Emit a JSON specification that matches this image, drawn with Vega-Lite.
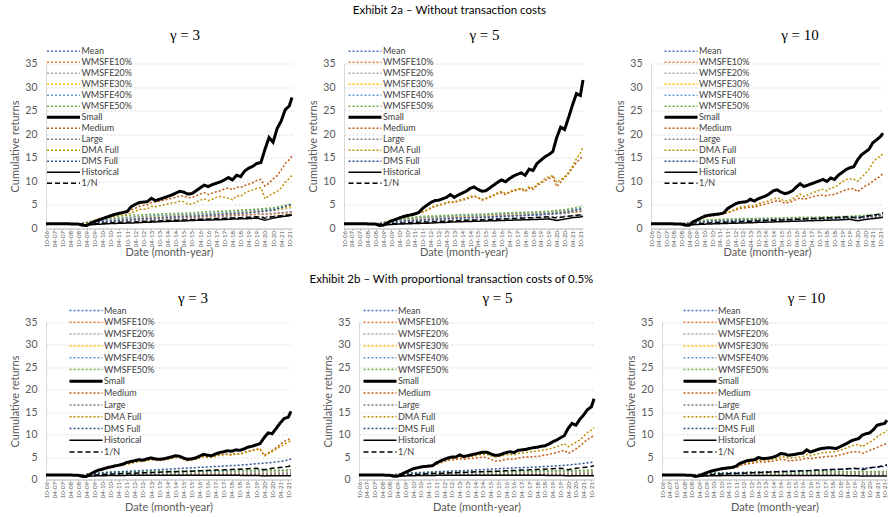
{
"$schema":"https://vega.github.io/schema/vega-lite/v6.json",
"padding":{"left":9,"top":4.5,"right":0,"bottom":0},
"background":"white",
"config":{
 "font":"Lato",
 "view":{"stroke":null},
 "axis":{"labelFont":"Lato","titleFont":"Lato","labelColor":"#595959","titleColor":"#595959","titleFontWeight":"normal"},
 "axisY":{"grid":true,"gridColor":"#D9D9D9","gridDash":[2,2],"ticks":false,"labelFontSize":10.5,"labelPadding":9,"titleFontSize":11,"titlePadding":4,"minExtent":0,"domainColor":"#D9D9D9"},
 "axisX":{"grid":false,"labelAngle":-90,"labelFontSize":6,"tickSize":2,"labelPadding":0,"titlePadding":0,"titleFontSize":11,"minExtent":0,"domainColor":"#BFBFBF","tickColor":"#BFBFBF","labelOverlap":false,"labelFlush":false},
 "legend":{"orient":"none","labelFont":"Lato","labelFontSize":9,"labelColor":"#404040","symbolSize":1089,"symbolType":"stroke","clipHeight":10,"rowPadding":1,"labelOffset":0.5,"padding":0,"offset":0},
 "title":{"font":"Liberation Serif","fontSize":15,"fontWeight":"normal","color":"#000000"}
},
"datasets":{
 "grids":[
  {"g":"Q","t":[0,3,6,9,12,15,18,21,24,27,30,33,36,39,42,45,48,51,54,57,60,63,66,69,72,75,78,81,84,87,90,93,96,99,102,105,108,111,114,117,120,123,126,129,132,135,138,141,144,147,150,153,156,159,162,165,168,171,174,177,180,182]},
  {"g":"H","t":[0,6,12,18,24,30,36,42,48,54,60,66,72,78,84,90,96,102,108,114,120,126,132,138,144,150,156,162,168,174,180,182]},
  {"g":"Y","t":[0,12,24,36,48,60,72,84,96,108,120,132,144,156,168,180,182]}
 ],
 "series":[
  {"p":"a3","s":"Mean","g":"Y","v":[1,1.01,0.96,1.3,1.5,1.7,1.9,2,2.2,2.3,2.5,2.6,2.8,3,3.2,3.5,3.6]},
  {"p":"a3","s":"\u00a0WMSFE10%","g":"Y","v":[1,1.01,0.96,1.4,1.7,1.9,2,2.2,2.3,2.4,2.6,2.7,2.9,3,3.1,3.3,3.4]},
  {"p":"a3","s":"\u00a0WMSFE20%","g":"Y","v":[1,1.01,0.96,1.5,1.9,2.2,2.4,2.6,2.7,2.8,3,3.1,3.3,3.5,3.8,4.3,4.5]},
  {"p":"a3","s":"\u00a0WMSFE30%","g":"Y","v":[1,1.01,0.96,1.5,2,2.3,2.5,2.7,2.8,2.9,3.1,3.3,3.5,3.7,4,4.5,4.7]},
  {"p":"a3","s":"\u00a0WMSFE40%","g":"Y","v":[1,1.01,0.96,1.5,2,2.4,2.6,2.8,2.9,3,3.2,3.4,3.6,3.9,4.2,4.9,5.1]},
  {"p":"a3","s":"\u00a0WMSFE50%","g":"Y","v":[1,1.01,0.96,1.7,2.4,2.8,2.9,3.1,3.2,3.3,3.6,3.7,3.9,4.1,4.4,5.1,5.4]},
  {"p":"a3","s":"Large","g":"Y","v":[1,1.01,0.96,1.2,1.4,1.6,1.7,1.8,1.9,2,2.1,2.2,2.3,2.4,2.6,2.9,3]},
  {"p":"a3","s":"DMS Full","g":"Y","v":[1,1.01,0.96,1.3,1.6,1.9,2.1,2.3,2.5,2.6,2.8,3,3.2,3.5,3.9,4.9,5.3]},
  {"p":"a3","s":"Historical","g":"H","v":[1,1.01,1.02,1,0.97,0.72,0.85,0.95,1.05,1.1,1.15,1.2,1.3,1.35,1.45,1.5,1.55,1.6,1.7,1.75,1.8,1.85,1.9,2,2.05,2.1,2.2,1.75,2.2,2.5,2.7,2.85]},
  {"p":"a3","s":"1/N","g":"H","v":[1,1.01,1.02,1,0.95,0.78,1,1.1,1.2,1.3,1.35,1.4,1.5,1.55,1.6,1.7,1.75,1.8,1.85,1.95,2,2.1,2.15,2.25,2.3,2.4,2.5,2.2,2.5,2.7,2.9,3.05]},
  {"p":"a3","s":"Medium","g":"Q","v":[1,1,1.01,1,1.02,1,0.99,0.98,0.95,0.8,0.95,1.4,1.7,2,2.3,2.6,2.9,3.1,3.3,3.4,3.5,3.9,4.3,4.7,4.9,5,5.5,5.6,5.8,6,6.2,6.4,6.6,6.9,6.9,6.5,6.6,6.9,7.3,7.6,7.2,7.5,7.8,8,8.4,8.6,8.2,8.8,8.7,9.1,9.4,9.7,10.2,10.4,9,9.6,10.5,11.2,12.4,13.8,14.6,15.4]},
  {"p":"a3","s":"DMA Full","g":"Q","v":[1,1,1.01,1,1.02,1,0.99,0.98,0.95,0.8,0.95,1.3,1.6,1.9,2.1,2.3,2.5,2.6,2.8,2.9,3,3.3,3.7,4,4.1,4.2,4.7,4.6,4.8,5,5.2,5.4,5.5,5.8,5.7,5.1,5.2,5.6,6,6.3,5.9,6.2,6.6,6.8,6.6,6.4,6.1,6.9,6.8,7.5,7.9,8.2,8.5,8.7,6.3,7,7.4,7.9,8.6,9.8,10.6,11.3]},
  {"p":"a3","s":"Small","g":"Q","v":[1,1,1.01,1,1.02,1,0.98,0.97,0.93,0.7,0.62,1.1,1.5,1.8,2.1,2.4,2.7,3,3.2,3.4,3.6,4.6,5.1,5.5,5.6,5.7,6.4,5.9,6.2,6.5,6.8,7.1,7.5,7.9,7.7,7.3,7.4,8,8.6,9.2,8.9,9.3,9.6,9.9,10.3,10.8,10.3,11.3,11,12.2,12.8,13.2,13.8,14,16.8,19.3,18.3,21.2,22.8,25.2,26,27.8]},

  {"p":"a5","s":"Mean","g":"Y","v":[1,1.01,0.96,1.4,1.7,1.9,2,2.2,2.3,2.4,2.5,2.7,2.8,3,3.2,3.6,3.8]},
  {"p":"a5","s":"\u00a0WMSFE10%","g":"Y","v":[1,1.01,0.96,1.5,1.9,2.1,2.2,2.4,2.5,2.6,2.7,2.8,3,3.1,3.3,3.6,3.7]},
  {"p":"a5","s":"\u00a0WMSFE20%","g":"Y","v":[1,1.01,0.96,1.5,2,2.2,2.4,2.5,2.6,2.7,2.9,3,3.1,3.3,3.5,3.9,4]},
  {"p":"a5","s":"\u00a0WMSFE30%","g":"Y","v":[1,1.01,0.96,1.6,2.1,2.3,2.5,2.6,2.7,2.8,3,3.1,3.2,3.4,3.6,4.1,4.2]},
  {"p":"a5","s":"\u00a0WMSFE40%","g":"Y","v":[1,1.01,0.96,1.6,2.1,2.4,2.5,2.7,2.8,2.9,3.1,3.2,3.3,3.5,3.8,4.3,4.4]},
  {"p":"a5","s":"\u00a0WMSFE50%","g":"Y","v":[1,1.01,0.96,1.7,2.3,2.6,2.7,2.9,3,3.1,3.3,3.4,3.5,3.7,4,4.6,4.8]},
  {"p":"a5","s":"Large","g":"Y","v":[1,1.01,0.96,1.2,1.4,1.6,1.7,1.8,1.9,2,2.1,2.2,2.3,2.4,2.6,2.8,2.9]},
  {"p":"a5","s":"DMS Full","g":"Y","v":[1,1.01,0.96,1.3,1.6,1.8,2,2.2,2.3,2.4,2.6,2.7,2.9,3.1,3.4,4.1,4.5]},
  {"p":"a5","s":"Historical","g":"H","v":[1,1.01,1.02,1,0.97,0.72,0.85,0.95,1,1.05,1.1,1.15,1.25,1.3,1.4,1.45,1.5,1.55,1.6,1.65,1.7,1.75,1.8,1.85,1.9,1.95,2.05,1.7,2,2.3,2.45,2.6]},
  {"p":"a5","s":"1/N","g":"H","v":[1,1.01,1.02,1,0.95,0.78,1,1.1,1.2,1.3,1.35,1.4,1.5,1.55,1.6,1.7,1.75,1.8,1.85,1.95,2,2.1,2.15,2.25,2.3,2.4,2.5,2.2,2.5,2.7,2.9,3.05]},
  {"p":"a5","s":"Medium","g":"Q","v":[1,1,1.01,1,1.02,1,0.99,0.98,0.95,0.7,0.9,1.3,1.7,2,2.3,2.6,2.8,3,3.2,3.3,3.5,3.9,4.3,4.7,4.9,5.1,5.4,5.6,5.5,5.8,6,6.2,6.6,6.8,6.6,6,6.3,6.6,7,7.4,7.6,7.2,7.6,8,8.2,8.4,7.8,8.6,8.3,9.1,9.6,10.2,10.6,11,8.9,9.8,10.8,11.6,12.8,14,14.8,15.5]},
  {"p":"a5","s":"DMA Full","g":"Q","v":[1,1,1.01,1,1.02,1,0.99,0.98,0.95,0.7,0.9,1.3,1.7,2,2.3,2.6,2.8,3,3.2,3.3,3.5,3.9,4.4,4.8,5,5.2,5.5,5.7,5.6,6,6.2,6.4,6.8,7,6.5,6.2,6.4,6.8,7.1,7.6,7.9,7.4,7.8,8.2,8.3,8.6,8,8.9,8.5,9.4,9.9,10.6,11,11.2,9.7,10.4,11,11.9,13.2,14.8,16,17.2]},
  {"p":"a5","s":"Small","g":"Q","v":[1,1,1.01,1,1.02,1,0.98,0.97,0.93,0.65,0.7,1.2,1.6,1.9,2.2,2.5,2.7,2.9,3.1,3.4,4.3,4.9,5.5,5.9,6,6.3,6.6,7.2,6.6,7.1,7.5,7.9,8.5,8.8,8.3,7.9,8,8.6,9.2,9.8,10.3,9.9,10.6,11.1,11.5,11.8,11.3,12.6,12.3,13.8,14.5,15.2,15.7,16.3,19.3,21.5,21,23.5,26.2,28.6,28.2,31.5]},

  {"p":"a10","s":"Mean","g":"Y","v":[1,1.01,0.96,1.3,1.5,1.6,1.7,1.8,1.9,2,2,2.1,2.2,2.3,2.4,2.7,2.8]},
  {"p":"a10","s":"\u00a0WMSFE10%","g":"Y","v":[1,1.01,0.96,1.4,1.6,1.7,1.8,1.9,2,2,2.1,2.2,2.2,2.3,2.4,2.6,2.7]},
  {"p":"a10","s":"\u00a0WMSFE20%","g":"Y","v":[1,1.01,0.96,1.4,1.7,1.8,1.9,2,2,2.1,2.2,2.2,2.3,2.4,2.5,2.8,2.9]},
  {"p":"a10","s":"\u00a0WMSFE30%","g":"Y","v":[1,1.01,0.96,1.5,1.8,1.9,2,2,2.1,2.2,2.2,2.3,2.4,2.5,2.6,2.9,3]},
  {"p":"a10","s":"\u00a0WMSFE40%","g":"Y","v":[1,1.01,0.96,1.5,1.8,1.9,2,2.1,2.1,2.2,2.3,2.3,2.4,2.5,2.7,3,3.1]},
  {"p":"a10","s":"\u00a0WMSFE50%","g":"Y","v":[1,1.01,0.96,1.6,1.9,2,2.1,2.1,2.2,2.3,2.4,2.4,2.5,2.6,2.8,3.1,3.3]},
  {"p":"a10","s":"Large","g":"Y","v":[1,1.01,0.96,1.2,1.4,1.5,1.6,1.7,1.7,1.8,1.9,1.9,2,2.1,2.2,2.4,2.5]},
  {"p":"a10","s":"DMS Full","g":"Y","v":[1,1.01,0.96,1.3,1.5,1.6,1.7,1.8,1.9,1.9,2,2.1,2.2,2.3,2.5,2.8,3]},
  {"p":"a10","s":"Historical","g":"H","v":[1,1.01,1.02,1,0.97,0.75,0.85,0.92,0.98,1.03,1.08,1.12,1.18,1.22,1.3,1.35,1.4,1.45,1.5,1.55,1.6,1.65,1.7,1.75,1.8,1.85,1.95,1.65,1.9,2.1,2.3,2.4]},
  {"p":"a10","s":"1/N","g":"H","v":[1,1.01,1.02,1,0.95,0.78,1,1.1,1.2,1.3,1.35,1.4,1.5,1.55,1.6,1.7,1.75,1.8,1.85,1.95,2,2.1,2.15,2.25,2.3,2.4,2.5,2.2,2.6,2.8,3.1,3.35]},
  {"p":"a10","s":"Medium","g":"Q","v":[1,1,1.01,1,1.02,1,0.99,0.98,0.95,0.75,0.95,1.4,1.8,2.1,2.4,2.6,2.7,2.8,2.9,3.1,3.3,3.6,3.9,4.2,4.3,4.4,4.6,4.5,4.8,5,5.2,5.4,5.7,5.9,5.7,5.4,5.5,5.8,6.2,6.5,6.2,6.4,6.7,6.9,7,7.1,6.9,7.2,7.2,7.6,7.9,8.2,8.4,8.5,7.8,8.4,9,9.4,10,10.6,11.1,11.7]},
  {"p":"a10","s":"DMA Full","g":"Q","v":[1,1,1.01,1,1.02,1,0.99,0.98,0.95,0.75,0.95,1.4,1.8,2.1,2.4,2.6,2.8,2.9,3,3.2,3.4,3.7,4.1,4.5,4.6,4.7,4.9,4.8,5.2,5.5,5.7,5.9,6.3,6.5,6.2,5.8,5.9,6.3,6.8,7.3,6.8,7.1,7.5,7.8,8.1,8.3,8,8.6,8.7,9.3,9.9,10.4,10.5,10.5,10,10.8,11.6,12.6,13.9,14.9,15.3,16]},
  {"p":"a10","s":"Small","g":"Q","v":[1,1,1.01,1,1.02,1,0.98,0.97,0.93,0.7,0.7,1.4,1.8,2.2,2.6,2.8,2.9,3,3.1,3.3,4.2,4.7,5.2,5.5,5.6,5.7,6.2,5.8,6.3,6.6,6.9,7.4,8,8.2,7.7,7.4,7.6,8,8.8,9.5,8.9,9.2,9.5,9.8,10.1,10.4,10,10.7,10.4,11.3,11.9,12.5,12.9,13.1,14.5,15.6,16.2,16.8,18.2,18.8,19.5,20.2]},

  {"p":"b3","s":"Mean","g":"Y","v":[1,1,0.95,1.2,1.3,1.3,1.3,1.35,1.35,1.4,1.4,1.4,1.45,1.45,1.5,1.5,1.5]},
  {"p":"b3","s":"\u00a0WMSFE10%","g":"Y","v":[1,1,0.95,1.1,1.2,1.2,1.2,1.2,1.2,1.2,1.2,1.2,1.2,1.2,1.2,1.25,1.25]},
  {"p":"b3","s":"\u00a0WMSFE20%","g":"Y","v":[1,1,0.95,1.2,1.3,1.35,1.4,1.45,1.5,1.5,1.5,1.55,1.55,1.6,1.6,1.65,1.65]},
  {"p":"b3","s":"\u00a0WMSFE30%","g":"Y","v":[1,1,0.95,1.3,1.5,1.55,1.6,1.65,1.7,1.7,1.75,1.8,1.8,1.85,1.9,1.95,2]},
  {"p":"b3","s":"\u00a0WMSFE40%","g":"Y","v":[1,1,0.95,1.3,1.5,1.6,1.65,1.7,1.75,1.75,1.8,1.85,1.9,1.9,1.95,2,2.05]},
  {"p":"b3","s":"\u00a0WMSFE50%","g":"Y","v":[1,1,0.95,1.4,1.7,1.8,1.85,1.9,1.9,1.95,2,2,2.05,2.1,2.1,2.15,2.2]},
  {"p":"b3","s":"Large","g":"Y","v":[1,1,0.95,1.05,1.1,1.1,1.1,1.1,1.1,1.1,1.1,1.1,1.1,1.1,1.1,1.15,1.15]},
  {"p":"b3","s":"DMS Full","g":"Y","v":[1,1,0.95,1.3,1.6,1.8,2,2.2,2.4,2.6,2.8,3,3.2,3.5,3.8,4.3,4.6]},
  {"p":"b3","s":"Historical","g":"H","v":[1,1.01,1.02,1,0.97,0.7,0.8,0.85,0.88,0.9,0.92,0.93,0.94,0.95,0.95,0.96,0.96,0.95,0.95,0.94,0.94,0.93,0.93,0.92,0.92,0.91,0.9,0.8,0.85,0.85,0.84,0.85]},
  {"p":"b3","s":"1/N","g":"H","v":[1,1.01,1.02,1,0.95,0.78,1,1.1,1.2,1.3,1.35,1.4,1.5,1.55,1.6,1.7,1.75,1.8,1.85,1.95,2,2.1,2.15,2.25,2.3,2.4,2.5,2.2,2.5,2.7,2.9,3.1]},
  {"p":"b3","s":"Medium","g":"Q","v":[1,1,1.01,1,1.02,1,0.99,0.98,0.95,0.75,0.9,1.3,1.7,2.1,2.4,2.6,2.8,3,3.2,3.3,3.5,3.7,3.9,4.1,4.1,4.3,4.5,4.4,4.3,4.4,4.6,4.8,5,5,4.6,4.3,4.4,4.6,4.9,5.2,5,5,5.3,5.5,5.6,5.7,5.5,5.8,5.7,6,6.3,6.5,6.7,6.9,5.4,5.9,6.5,7.1,7.8,8.5,8.9,9.4]},
  {"p":"b3","s":"DMA Full","g":"Q","v":[1,1,1.01,1,1.02,1,0.99,0.98,0.95,0.75,0.9,1.3,1.7,2,2.3,2.5,2.7,2.9,3.1,3.2,3.4,3.6,3.8,4,4,4.2,4.4,4.3,4.2,4.3,4.5,4.7,4.9,4.9,4.5,4.2,4.3,4.5,4.8,5.1,4.9,4.9,5.2,5.4,5.5,5.6,5.4,5.7,5.6,5.9,6.2,6.4,6.6,6.8,5.2,5.7,6.2,6.7,7.3,7.9,8.3,8.7]},
  {"p":"b3","s":"Small","g":"Q","v":[1,1,1.01,1,1.02,1,0.98,0.97,0.93,0.7,0.65,1.2,1.7,2.1,2.3,2.6,2.8,3,3.2,3.4,3.8,4,4.2,4.4,4.3,4.6,4.8,4.6,4.5,4.6,4.8,5,5.3,5.2,4.8,4.5,4.6,4.8,5.2,5.6,5.4,5.3,5.7,6,6.2,6.4,6.3,6.6,6.5,6.8,7.2,7.4,7.7,8,9.3,10.4,10.2,11.4,12.6,13.6,13.9,15.2]},

  {"p":"b5","s":"Mean","g":"Y","v":[1,1,0.95,1.2,1.3,1.3,1.35,1.35,1.4,1.4,1.4,1.45,1.45,1.5,1.5,1.55,1.55]},
  {"p":"b5","s":"\u00a0WMSFE10%","g":"Y","v":[1,1,0.95,1.1,1.2,1.2,1.2,1.2,1.2,1.2,1.2,1.2,1.2,1.25,1.25,1.3,1.3]},
  {"p":"b5","s":"\u00a0WMSFE20%","g":"Y","v":[1,1,0.95,1.2,1.35,1.4,1.4,1.45,1.45,1.5,1.5,1.55,1.55,1.6,1.6,1.65,1.7]},
  {"p":"b5","s":"\u00a0WMSFE30%","g":"Y","v":[1,1,0.95,1.3,1.5,1.55,1.6,1.6,1.65,1.7,1.7,1.75,1.8,1.8,1.85,1.9,1.95]},
  {"p":"b5","s":"\u00a0WMSFE40%","g":"Y","v":[1,1,0.95,1.3,1.5,1.6,1.6,1.65,1.7,1.75,1.75,1.8,1.85,1.9,1.9,2,2]},
  {"p":"b5","s":"\u00a0WMSFE50%","g":"Y","v":[1,1,0.95,1.4,1.6,1.7,1.75,1.8,1.8,1.85,1.9,1.9,1.95,2,2.05,2.1,2.1]},
  {"p":"b5","s":"Large","g":"Y","v":[1,1,0.95,1.05,1.1,1.1,1.1,1.1,1.1,1.1,1.1,1.1,1.1,1.1,1.1,1.15,1.15]},
  {"p":"b5","s":"DMS Full","g":"Y","v":[1,1,0.95,1.3,1.5,1.7,1.9,2,2.2,2.4,2.6,2.7,2.9,3.1,3.4,3.8,4.1]},
  {"p":"b5","s":"Historical","g":"H","v":[1,1.01,1.02,1,0.97,0.7,0.8,0.85,0.88,0.9,0.92,0.93,0.94,0.95,0.95,0.96,0.96,0.95,0.95,0.94,0.94,0.93,0.93,0.92,0.92,0.91,0.9,0.8,0.84,0.84,0.83,0.84]},
  {"p":"b5","s":"1/N","g":"H","v":[1,1.01,1.02,1,0.95,0.78,1,1.1,1.2,1.3,1.35,1.4,1.5,1.55,1.6,1.7,1.75,1.8,1.85,1.95,2,2.1,2.15,2.25,2.3,2.4,2.5,2.2,2.5,2.7,2.9,3.1]},
  {"p":"b5","s":"Medium","g":"Q","v":[1,1,1.01,1,1.02,1,0.99,0.98,0.95,0.75,0.9,1.3,1.7,2,2.3,2.5,2.7,2.8,2.9,3,3.4,3.7,4,4.3,4.4,4.4,4.7,4.5,4.6,4.7,4.8,4.9,5,4.9,4.5,4.1,4.1,4.3,4.5,4.6,4.5,4.8,4.9,5,5,5.1,5.1,5.3,5.4,5.6,5.8,6,6.3,6.5,5.8,6.3,6.8,7.5,8.2,9,9.4,9.9]},
  {"p":"b5","s":"DMA Full","g":"Q","v":[1,1,1.01,1,1.02,1,0.99,0.98,0.95,0.75,0.9,1.3,1.7,2,2.3,2.5,2.7,2.8,2.9,3,3.5,3.9,4.2,4.5,4.7,4.7,5.1,4.9,5,5.2,5.3,5.5,5.6,5.6,5.3,5,5.1,5.3,5.5,5.6,5.5,5.8,5.9,6,6.1,6.3,6.3,6.5,6.6,6.8,7,7.3,7.6,8,7.3,7.8,8.3,8.8,9.6,10.5,11,11.5]},
  {"p":"b5","s":"Small","g":"Q","v":[1,1,1.01,1,1.02,1,0.98,0.97,0.93,0.7,0.75,1.2,1.6,2,2.4,2.6,2.8,2.9,3,3.1,3.7,4.1,4.5,4.8,5,5,5.5,5.1,5.3,5.5,5.7,5.9,6.1,6.1,5.7,5.4,5.4,5.7,6,6.2,6,6.5,6.6,6.7,6.9,7.1,7.2,7.4,7.5,7.9,8.4,8.8,9.3,9.8,11.4,12.5,12.1,13.4,14.4,15.6,16.2,18]},

  {"p":"b10","s":"Mean","g":"Y","v":[1,1,0.95,1.2,1.3,1.3,1.35,1.35,1.4,1.4,1.4,1.4,1.45,1.45,1.5,1.5,1.5]},
  {"p":"b10","s":"\u00a0WMSFE10%","g":"Y","v":[1,1,0.95,1.1,1.15,1.15,1.15,1.15,1.15,1.15,1.2,1.2,1.2,1.2,1.2,1.2,1.2]},
  {"p":"b10","s":"\u00a0WMSFE20%","g":"Y","v":[1,1,0.95,1.2,1.3,1.35,1.35,1.4,1.4,1.4,1.45,1.45,1.45,1.5,1.5,1.5,1.55]},
  {"p":"b10","s":"\u00a0WMSFE30%","g":"Y","v":[1,1,0.95,1.25,1.4,1.45,1.5,1.5,1.55,1.55,1.6,1.6,1.6,1.65,1.65,1.7,1.7]},
  {"p":"b10","s":"\u00a0WMSFE40%","g":"Y","v":[1,1,0.95,1.3,1.45,1.5,1.5,1.55,1.6,1.6,1.65,1.65,1.7,1.7,1.7,1.75,1.75]},
  {"p":"b10","s":"\u00a0WMSFE50%","g":"Y","v":[1,1,0.95,1.35,1.5,1.55,1.6,1.6,1.65,1.65,1.7,1.7,1.75,1.75,1.8,1.8,1.85]},
  {"p":"b10","s":"Large","g":"Y","v":[1,1,0.95,1.05,1.1,1.1,1.1,1.1,1.1,1.1,1.1,1.1,1.1,1.1,1.1,1.1,1.1]},
  {"p":"b10","s":"DMS Full","g":"Y","v":[1,1,0.95,1.2,1.4,1.5,1.6,1.7,1.8,1.9,2,2.1,2.2,2.4,2.6,2.9,3.1]},
  {"p":"b10","s":"Historical","g":"H","v":[1,1.01,1.02,1,0.97,0.72,0.8,0.84,0.86,0.88,0.89,0.9,0.9,0.91,0.91,0.91,0.9,0.9,0.9,0.89,0.89,0.88,0.88,0.87,0.87,0.86,0.85,0.75,0.78,0.78,0.77,0.78]},
  {"p":"b10","s":"1/N","g":"H","v":[1,1.01,1.02,1,0.95,0.78,1,1.1,1.2,1.3,1.35,1.4,1.5,1.55,1.6,1.7,1.75,1.8,1.85,1.95,2,2.1,2.15,2.25,2.3,2.4,2.5,2.2,2.6,2.8,3.1,3.3]},
  {"p":"b10","s":"Medium","g":"Q","v":[1,1,1.01,1,1.02,1,0.99,0.98,0.95,0.75,0.9,1.2,1.5,1.8,2,2.1,2.2,2.3,2.4,2.5,2.7,3,3.3,3.5,3.6,3.7,4,3.9,3.9,4,4.1,4.3,4.5,4.4,4.2,4.2,4.3,4.4,4.5,4.8,4.6,4.8,4.9,5,5.1,5.2,5.2,5.3,5.5,5.7,5.9,6.1,6.2,6.2,5.8,6.1,6.5,6.8,7.1,7.5,7.8,8.1]},
  {"p":"b10","s":"DMA Full","g":"Q","v":[1,1,1.01,1,1.02,1,0.99,0.98,0.95,0.75,0.9,1.2,1.5,1.8,2,2.2,2.3,2.4,2.5,2.6,2.8,3.2,3.5,3.8,3.9,4,4.4,4.2,4.3,4.4,4.5,4.7,5.1,5,4.8,4.8,4.9,5,5.1,5.6,5.3,5.5,5.7,5.9,6,6.1,6.1,6.2,6.5,6.8,7.1,7.5,7.7,7.8,7.3,7.8,8.3,8.8,9.5,10.1,10.5,11]},
  {"p":"b10","s":"Small","g":"Q","v":[1,1,1.01,1,1.02,1,0.98,0.97,0.93,0.7,0.8,1.2,1.5,1.8,2,2.2,2.4,2.5,2.6,2.7,3,3.6,3.9,4.2,4.3,4.4,4.9,4.7,4.7,4.8,5,5.3,5.8,5.7,5.4,5.5,5.6,5.8,5.9,6.6,6.1,6.4,6.7,6.9,7,7.1,7,6.9,7.3,7.7,8.1,8.6,8.9,9.1,9.9,10.2,10.4,11.1,12.1,12.3,12.5,13.2]}
 ]
},
"data":{"name":"series"},
"transform":[
 {"lookup":"g","from":{"data":{"name":"grids"},"key":"g","fields":["t"]}},
 {"flatten":["t","v"]}
],
"resolve":{"scale":{"color":"independent","strokeDash":"independent"},"legend":{"color":"independent","strokeDash":"independent"}},
"spacing":15,
"vconcat":[
 {"title":{"text":"Exhibit 2a \u2013 Without transaction costs","font":"Lato","fontSize":11.5,"anchor":"middle","offset":10.6},
  "spacing":25,
  "resolve":{"scale":{"color":"independent","strokeDash":"independent"},"legend":{"color":"independent","strokeDash":"independent"}},
  "hconcat":[
   {"spacing":9,
    "resolve":{"scale":{"color":"independent","strokeDash":"independent"},"legend":{"color":"independent","strokeDash":"independent"}},
    "hconcat":[
     {"width":246,"height":165,"title":{"text":"\u03b3 = 3","dx":16,"offset":3.7},
      "transform":[{"filter":"datum.p==='a3'"}],
      "mark":{"type":"line","strokeCap":"butt"},
      "encoding":{
       "x":{"field":"t","type":"quantitative","title":"Date (month-year)","scale":{"domain":[0,182],"nice":false,"zero":false},"axis":{"values":[0,6,12,18,24,30,36,42,48,54,60,66,72,78,84,90,96,102,108,114,120,126,132,138,144,150,156,162,168,174,180],"labelExpr":"(((9+datum.value)%12+1)<10?'0':'')+((9+datum.value)%12+1)+'-'+((6+floor((9+datum.value)/12))<10?'0':'')+(6+floor((9+datum.value)/12))"}},
       "y":{"field":"v","type":"quantitative","title":"Cumulative returns","scale":{"domain":[0,35],"nice":false},"axis":{"values":[0,5,10,15,20,25,30,35]}},
       "color":{"field":"s","type":"nominal","scale":{"domain":["Mean","\u00a0WMSFE10%","\u00a0WMSFE20%","\u00a0WMSFE30%","\u00a0WMSFE40%","\u00a0WMSFE50%","Small","Medium","Large","DMA Full","DMS Full","Historical","1/N"],"range":["#4472C4","#ED7D31","#A5A5A5","#FFC000","#5B9BD5","#70AD47","#000000","#C55A11","#7F7F7F","#BF9000","#2F5597","#000000","#000000"]},"legend":{"title":null,"legendX":0,"legendY":-17.3,"encode":{"symbols":{"update":{"strokeWidth":{"signal":"(datum.value==='Small'?3:1.5)"}}}}}},
       "strokeDash":{"field":"s","type":"nominal","scale":{"domain":["Mean","\u00a0WMSFE10%","\u00a0WMSFE20%","\u00a0WMSFE30%","\u00a0WMSFE40%","\u00a0WMSFE50%","Small","Medium","Large","DMA Full","DMS Full","Historical","1/N"],"range":[[2,2],[2,2],[2,2],[2,2],[2,2],[2,2],[1,0],[2,2],[2,2],[2,2],[2,2],[1,0],[5,3]]},"legend":{"title":null,"legendX":0,"legendY":-17.3,"encode":{"symbols":{"update":{"strokeWidth":{"signal":"(datum.value==='Small'?3:1.5)"}}}}}},
       "strokeWidth":{"condition":{"test":"datum.s==='Small'","value":3},"value":1.5}
      }},
     {"width":239,"height":165,"title":{"text":"\u03b3 = 5","dx":21,"offset":3.7},
      "transform":[{"filter":"datum.p==='a5'"}],
      "mark":{"type":"line","strokeCap":"butt"},
      "encoding":{
       "x":{"field":"t","type":"quantitative","title":"Date (month-year)","scale":{"domain":[0,182],"nice":false,"zero":false},"axis":{"values":[0,6,12,18,24,30,36,42,48,54,60,66,72,78,84,90,96,102,108,114,120,126,132,138,144,150,156,162,168,174,180],"labelExpr":"(((9+datum.value)%12+1)<10?'0':'')+((9+datum.value)%12+1)+'-'+((6+floor((9+datum.value)/12))<10?'0':'')+(6+floor((9+datum.value)/12))"}},
       "y":{"field":"v","type":"quantitative","title":"Cumulative returns","scale":{"domain":[0,35],"nice":false},"axis":{"values":[0,5,10,15,20,25,30,35]}},
       "color":{"field":"s","type":"nominal","scale":{"domain":["Mean","\u00a0WMSFE10%","\u00a0WMSFE20%","\u00a0WMSFE30%","\u00a0WMSFE40%","\u00a0WMSFE50%","Small","Medium","Large","DMA Full","DMS Full","Historical","1/N"],"range":["#4472C4","#ED7D31","#A5A5A5","#FFC000","#5B9BD5","#70AD47","#000000","#C55A11","#7F7F7F","#BF9000","#2F5597","#000000","#000000"]},"legend":{"title":null,"legendX":3.5,"legendY":-17.3,"encode":{"symbols":{"update":{"strokeWidth":{"signal":"(datum.value==='Small'?3:1.5)"}}}}}},
       "strokeDash":{"field":"s","type":"nominal","scale":{"domain":["Mean","\u00a0WMSFE10%","\u00a0WMSFE20%","\u00a0WMSFE30%","\u00a0WMSFE40%","\u00a0WMSFE50%","Small","Medium","Large","DMA Full","DMS Full","Historical","1/N"],"range":[[2,2],[2,2],[2,2],[2,2],[2,2],[2,2],[1,0],[2,2],[2,2],[2,2],[2,2],[1,0],[5,3]]},"legend":{"title":null,"legendX":3.5,"legendY":-17.3,"encode":{"symbols":{"update":{"strokeWidth":{"signal":"(datum.value==='Small'?3:1.5)"}}}}}},
       "strokeWidth":{"condition":{"test":"datum.s==='Small'","value":3},"value":1.5}
      }}
    ]},
   {"width":232,"height":165,"title":{"text":"\u03b3 = 10","dx":33,"offset":3.7},
    "transform":[{"filter":"datum.p==='a10'"}],
    "mark":{"type":"line","strokeCap":"butt"},
    "encoding":{
     "x":{"field":"t","type":"quantitative","title":"Date (month-year)","scale":{"domain":[0,182],"nice":false,"zero":false},"axis":{"values":[0,6,12,18,24,30,36,42,48,54,60,66,72,78,84,90,96,102,108,114,120,126,132,138,144,150,156,162,168,174,180],"labelExpr":"(((9+datum.value)%12+1)<10?'0':'')+((9+datum.value)%12+1)+'-'+((6+floor((9+datum.value)/12))<10?'0':'')+(6+floor((9+datum.value)/12))"}},
     "y":{"field":"v","type":"quantitative","title":"Cumulative returns","scale":{"domain":[0,35],"nice":false},"axis":{"values":[0,5,10,15,20,25,30,35]}},
     "color":{"field":"s","type":"nominal","scale":{"domain":["Mean","\u00a0WMSFE10%","\u00a0WMSFE20%","\u00a0WMSFE30%","\u00a0WMSFE40%","\u00a0WMSFE50%","Small","Medium","Large","DMA Full","DMS Full","Historical","1/N"],"range":["#4472C4","#ED7D31","#A5A5A5","#FFC000","#5B9BD5","#70AD47","#000000","#C55A11","#7F7F7F","#BF9000","#2F5597","#000000","#000000"]},"legend":{"title":null,"legendX":12.5,"legendY":-17.3,"encode":{"symbols":{"update":{"strokeWidth":{"signal":"(datum.value==='Small'?3:1.5)"}}}}}},
     "strokeDash":{"field":"s","type":"nominal","scale":{"domain":["Mean","\u00a0WMSFE10%","\u00a0WMSFE20%","\u00a0WMSFE30%","\u00a0WMSFE40%","\u00a0WMSFE50%","Small","Medium","Large","DMA Full","DMS Full","Historical","1/N"],"range":[[2,2],[2,2],[2,2],[2,2],[2,2],[2,2],[1,0],[2,2],[2,2],[2,2],[2,2],[1,0],[5,3]]},"legend":{"title":null,"legendX":12.5,"legendY":-17.3,"encode":{"symbols":{"update":{"strokeWidth":{"signal":"(datum.value==='Small'?3:1.5)"}}}}}},
     "strokeWidth":{"condition":{"test":"datum.s==='Small'","value":3},"value":1.5}
    }}
  ]},
 {"title":{"text":"Exhibit 2b \u2013 With proportional transaction costs of 0.5%","font":"Lato","fontSize":11.5,"anchor":"middle","offset":5},
  "spacing":25,
  "resolve":{"scale":{"color":"independent","strokeDash":"independent"},"legend":{"color":"independent","strokeDash":"independent"}},
  "hconcat":[
   {"width":245,"height":157,"title":{"text":"\u03b3 = 3","dx":24.5,"offset":0},
    "transform":[{"filter":"datum.p==='b3'"}],
    "mark":{"type":"line","strokeCap":"butt"},
    "encoding":{
     "x":{"field":"t","type":"quantitative","title":"Date (month-year)","scale":{"domain":[0,182],"nice":false,"zero":false},"axis":{"titlePadding":4,"values":[0,6,12,18,24,30,36,42,48,54,60,66,72,78,84,90,96,102,108,114,120,126,132,138,144,150,156,162,168,174,180],"labelExpr":"(((9+datum.value)%12+1)<10?'0':'')+((9+datum.value)%12+1)+'-'+((6+floor((9+datum.value)/12))<10?'0':'')+(6+floor((9+datum.value)/12))"}},
     "y":{"field":"v","type":"quantitative","title":"Cumulative returns","scale":{"domain":[0,35],"nice":false},"axis":{"values":[0,5,10,15,20,25,30,35]}},
     "color":{"field":"s","type":"nominal","scale":{"domain":["Mean","\u00a0WMSFE10%","\u00a0WMSFE20%","\u00a0WMSFE30%","\u00a0WMSFE40%","\u00a0WMSFE50%","Small","Medium","Large","DMA Full","DMS Full","Historical","1/N"],"range":["#4472C4","#ED7D31","#A5A5A5","#FFC000","#5B9BD5","#70AD47","#000000","#C55A11","#7F7F7F","#BF9000","#2F5597","#000000","#000000"]},"legend":{"title":null,"legendX":22.5,"legendY":-17,"rowPadding":1.8,"encode":{"symbols":{"update":{"strokeWidth":{"signal":"(datum.value==='Small'?3:1.5)"}}}}}},
     "strokeDash":{"field":"s","type":"nominal","scale":{"domain":["Mean","\u00a0WMSFE10%","\u00a0WMSFE20%","\u00a0WMSFE30%","\u00a0WMSFE40%","\u00a0WMSFE50%","Small","Medium","Large","DMA Full","DMS Full","Historical","1/N"],"range":[[2,2],[2,2],[2,2],[2,2],[2,2],[2,2],[1,0],[2,2],[2,2],[2,2],[2,2],[1,0],[5,3]]},"legend":{"title":null,"legendX":22.5,"legendY":-17,"rowPadding":1.8,"encode":{"symbols":{"update":{"strokeWidth":{"signal":"(datum.value==='Small'?3:1.5)"}}}}}},
     "strokeWidth":{"condition":{"test":"datum.s==='Small'","value":3},"value":1.5}
    }},
   {"width":235,"height":157,"title":{"text":"\u03b3 = 5","dx":21,"offset":0},
    "transform":[{"filter":"datum.p==='b5'"}],
    "mark":{"type":"line","strokeCap":"butt"},
    "encoding":{
     "x":{"field":"t","type":"quantitative","title":"Date (month-year)","scale":{"domain":[0,182],"nice":false,"zero":false},"axis":{"titlePadding":4,"values":[0,6,12,18,24,30,36,42,48,54,60,66,72,78,84,90,96,102,108,114,120,126,132,138,144,150,156,162,168,174,180],"labelExpr":"(((9+datum.value)%12+1)<10?'0':'')+((9+datum.value)%12+1)+'-'+((6+floor((9+datum.value)/12))<10?'0':'')+(6+floor((9+datum.value)/12))"}},
     "y":{"field":"v","type":"quantitative","title":"Cumulative returns","scale":{"domain":[0,35],"nice":false},"axis":{"values":[0,5,10,15,20,25,30,35]}},
     "color":{"field":"s","type":"nominal","scale":{"domain":["Mean","\u00a0WMSFE10%","\u00a0WMSFE20%","\u00a0WMSFE30%","\u00a0WMSFE40%","\u00a0WMSFE50%","Small","Medium","Large","DMA Full","DMS Full","Historical","1/N"],"range":["#4472C4","#ED7D31","#A5A5A5","#FFC000","#5B9BD5","#70AD47","#000000","#C55A11","#7F7F7F","#BF9000","#2F5597","#000000","#000000"]},"legend":{"title":null,"legendX":3.5,"legendY":-17,"rowPadding":1.8,"encode":{"symbols":{"update":{"strokeWidth":{"signal":"(datum.value==='Small'?3:1.5)"}}}}}},
     "strokeDash":{"field":"s","type":"nominal","scale":{"domain":["Mean","\u00a0WMSFE10%","\u00a0WMSFE20%","\u00a0WMSFE30%","\u00a0WMSFE40%","\u00a0WMSFE50%","Small","Medium","Large","DMA Full","DMS Full","Historical","1/N"],"range":[[2,2],[2,2],[2,2],[2,2],[2,2],[2,2],[1,0],[2,2],[2,2],[2,2],[2,2],[1,0],[5,3]]},"legend":{"title":null,"legendX":3.5,"legendY":-17,"rowPadding":1.8,"encode":{"symbols":{"update":{"strokeWidth":{"signal":"(datum.value==='Small'?3:1.5)"}}}}}},
     "strokeWidth":{"condition":{"test":"datum.s==='Small'","value":3},"value":1.5}
    }},
   {"width":225,"height":157,"title":{"text":"\u03b3 = 10","dx":32,"offset":0},
    "transform":[{"filter":"datum.p==='b10'"}],
    "mark":{"type":"line","strokeCap":"butt"},
    "encoding":{
     "x":{"field":"t","type":"quantitative","title":"Date (month-year)","scale":{"domain":[0,182],"nice":false,"zero":false},"axis":{"titlePadding":4,"values":[0,6,12,18,24,30,36,42,48,54,60,66,72,78,84,90,96,102,108,114,120,126,132,138,144,150,156,162,168,174,180],"labelExpr":"(((9+datum.value)%12+1)<10?'0':'')+((9+datum.value)%12+1)+'-'+((6+floor((9+datum.value)/12))<10?'0':'')+(6+floor((9+datum.value)/12))"}},
     "y":{"field":"v","type":"quantitative","title":"Cumulative returns","scale":{"domain":[0,35],"nice":false},"axis":{"values":[0,5,10,15,20,25,30,35]}},
     "color":{"field":"s","type":"nominal","scale":{"domain":["Mean","\u00a0WMSFE10%","\u00a0WMSFE20%","\u00a0WMSFE30%","\u00a0WMSFE40%","\u00a0WMSFE50%","Small","Medium","Large","DMA Full","DMS Full","Historical","1/N"],"range":["#4472C4","#ED7D31","#A5A5A5","#FFC000","#5B9BD5","#70AD47","#000000","#C55A11","#7F7F7F","#BF9000","#2F5597","#000000","#000000"]},"legend":{"title":null,"legendX":20.5,"legendY":-17,"rowPadding":1.8,"encode":{"symbols":{"update":{"strokeWidth":{"signal":"(datum.value==='Small'?3:1.5)"}}}}}},
     "strokeDash":{"field":"s","type":"nominal","scale":{"domain":["Mean","\u00a0WMSFE10%","\u00a0WMSFE20%","\u00a0WMSFE30%","\u00a0WMSFE40%","\u00a0WMSFE50%","Small","Medium","Large","DMA Full","DMS Full","Historical","1/N"],"range":[[2,2],[2,2],[2,2],[2,2],[2,2],[2,2],[1,0],[2,2],[2,2],[2,2],[2,2],[1,0],[5,3]]},"legend":{"title":null,"legendX":20.5,"legendY":-17,"rowPadding":1.8,"encode":{"symbols":{"update":{"strokeWidth":{"signal":"(datum.value==='Small'?3:1.5)"}}}}}},
     "strokeWidth":{"condition":{"test":"datum.s==='Small'","value":3},"value":1.5}
    }}
  ]}
]
}
